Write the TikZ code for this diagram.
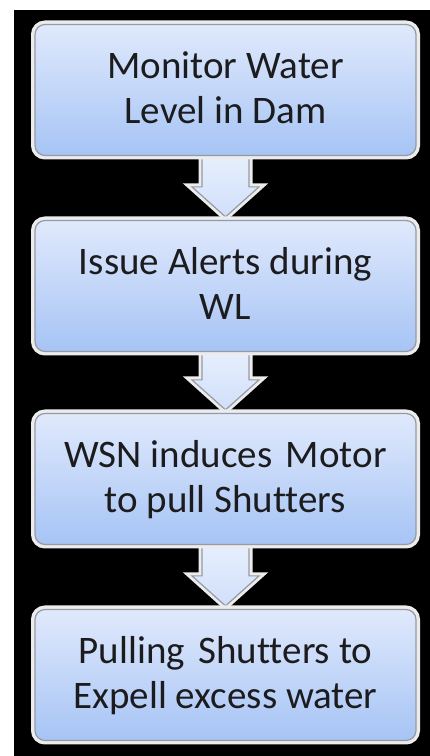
\documentclass[tikz,border=0pt]{standalone}
\usepackage{fontspec}
\setmainfont{Carlito}[Ligatures=NoCommon]
\usetikzlibrary{calc}
\pgfdeclarelayer{back}
\pgfdeclarelayer{arrows}
\pgfsetlayers{back,arrows,main}

\definecolor{boxtop}{RGB}{224,233,252}
\definecolor{boxbot}{RGB}{166,196,245}
\definecolor{arrtop}{RGB}{232,240,253}
\definecolor{arrbot}{RGB}{208,223,250}
\definecolor{boxedge}{RGB}{150,154,162}
\definecolor{glow}{RGB}{236,236,238}
\definecolor{ink}{RGB}{28,28,30}

% uniform line height so every box sets its lines on the same baselines
\newcommand\linestrut{\rule[-11pt]{0pt}{45pt}}

\begin{document}
\begin{tikzpicture}[x=1pt,y=1pt,
  stepbox/.style={rectangle, rounded corners=10pt,
    minimum width=381pt, minimum height=131pt, inner sep=0pt,
    top color=boxtop, bottom color=boxbot,
    draw=boxedge, line width=1.2pt,
    preaction={draw=glow, line width=8pt},
    align=center, text=ink, font=\fontsize{39}{45}\selectfont},
  flowarrow/.style={top color=arrtop, bottom color=arrbot,
    draw=boxedge, line width=1.2pt, line join=miter,
    preaction={draw=glow, line width=7pt, line join=miter}}]

\begin{pgfonlayer}{back}
  \fill[white] (0,0) rectangle (430,756);
  \fill[black] (14,0) rectangle (430,746);
\end{pgfonlayer}
\useasboundingbox (0,0) rectangle (430,756);

\node[stepbox] (b1) at (225.5,666) {\linestrut Monitor Water\\\linestrut Level in Dam};
\node[stepbox] (b2) at (225.5,470) {\linestrut Issue Alerts during\\\linestrut WL};
\node[stepbox] (b3) at (225.5,277) {\linestrut WSN induces\hspace{0.35em}Motor\\\linestrut to pull Shutters};
\node[stepbox] (b4) at (225.5,81) {\linestrut Pulling\hspace{0.35em}Shutters to\\\linestrut Expell excess water};

% block arrows between consecutive steps, tucked under the boxes
\begin{pgfonlayer}{arrows}
\foreach \a/\b in {b1/b2, b2/b3, b3/b4}{
  \path[flowarrow] let \p1=(\a.south), \p2=(\b.north) in
    (\x1-23.5,\y1+4) -- (\x1+23.5,\y1+4) -- (\x1+23.5,\y2+33)
    -- (\x1+33.5,\y2+33) -- (\x1,\y2+3) -- (\x1-33.5,\y2+33)
    -- (\x1-23.5,\y2+33) -- cycle;
}
\end{pgfonlayer}
\end{tikzpicture}
\end{document}
